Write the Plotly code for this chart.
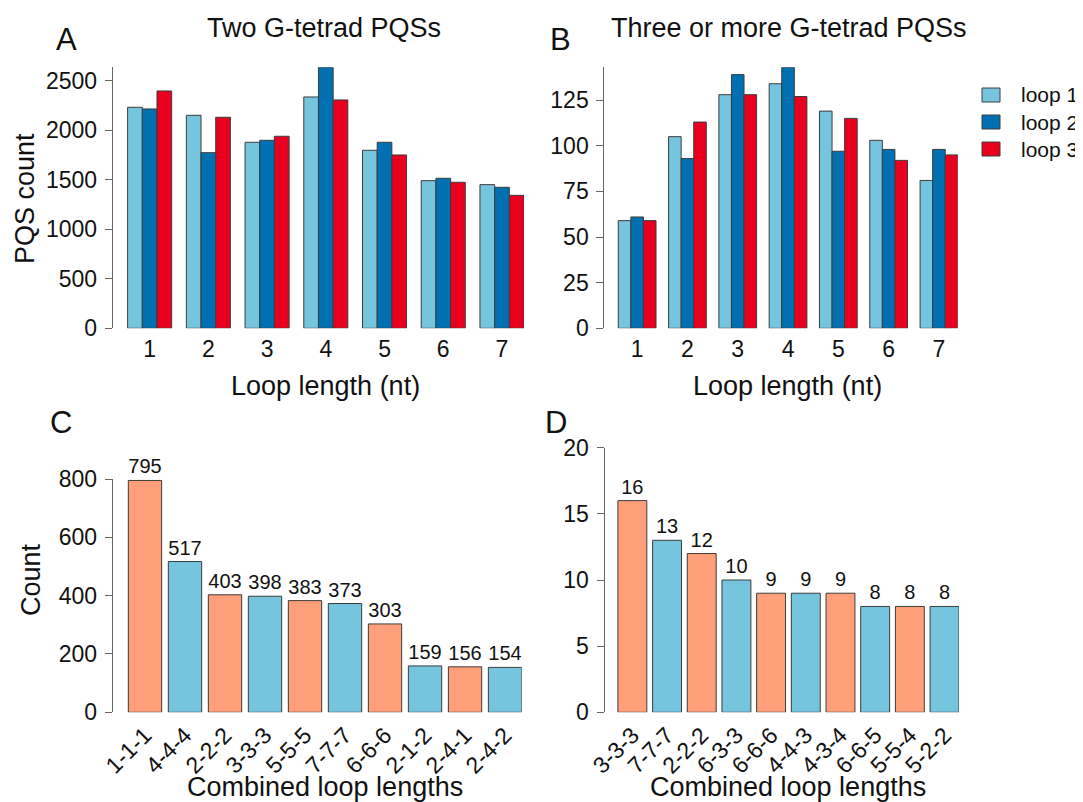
import plotly.graph_objects as go

# ---------------- data ----------------
loop_lengths = ["1", "2", "3", "4", "5", "6", "7"]

two_tetrad_loop1 = [2234, 2153, 1880, 2338, 1799, 1492, 1452]
two_tetrad_loop2 = [2217, 1775, 1900, 2638, 1880, 1516, 1425]
two_tetrad_loop3 = [2399, 2133, 1941, 2308, 1752, 1476, 1344]

three_tetrad_loop1 = [59, 105, 128, 134, 119, 103, 81]
three_tetrad_loop2 = [61, 93, 139, 143, 97, 98, 98]
three_tetrad_loop3 = [59, 113, 128, 127, 115, 92, 95]

combo_c_labels = ["1-1-1", "4-4-4", "2-2-2", "3-3-3", "5-5-5", "7-7-7", "6-6-6", "2-1-2", "2-4-1", "2-4-2"]
combo_c_counts = [795, 517, 403, 398, 383, 373, 303, 159, 156, 154]

combo_d_labels = ["3-3-3", "7-7-7", "2-2-2", "6-3-3", "6-6-6", "4-4-3", "4-3-4", "6-6-5", "5-5-4", "5-2-2"]
combo_d_counts = [16, 13, 12, 10, 9, 9, 9, 8, 8, 8]

series_names = ["loop 1", "loop 2", "loop 3"]

# ---------------- style ----------------
FONT = "Liberation Sans, Arial, Helvetica, sans-serif"
TXT = "#111111"
loop_colors = ["#76C5DF", "#0070B2", "#E8001E"]
alt_colors = ["#FFA07A", "#76C5DF"]
OUTLINE = "#3C3C3C"
AXC = "#666666"
TICK_SIZE = 23
TITLE_SIZE = 27

# page body has an 8px margin -> figure sits at (8, 8)
OFF = 8
W, H = 1083 - OFF, 802 - OFF

fig = go.Figure()

def px_x(p):
    return (p - OFF) / W

def px_y(p):
    return 1 - (p - OFF) / H

# Panel A
for name, vals, col in zip(series_names,
                           [two_tetrad_loop1, two_tetrad_loop2, two_tetrad_loop3],
                           loop_colors):
    fig.add_trace(go.Bar(x=loop_lengths, y=vals, name=name, marker_color=col,
                         marker_line_color=OUTLINE, marker_line_width=1,
                         xaxis="x", yaxis="y", showlegend=False))
# Panel B
for name, vals, col in zip(series_names,
                           [three_tetrad_loop1, three_tetrad_loop2, three_tetrad_loop3],
                           loop_colors):
    fig.add_trace(go.Bar(x=loop_lengths, y=vals, name=name, marker_color=col,
                         marker_line_color=OUTLINE, marker_line_width=1,
                         xaxis="x2", yaxis="y2", showlegend=False))

# Panel C
fig.add_trace(go.Bar(x=combo_c_labels, y=combo_c_counts, width=0.8333,
                     marker_color=[alt_colors[i % 2] for i in range(len(combo_c_counts))],
                     marker_line_color=OUTLINE, marker_line_width=1,
                     text=[str(v) for v in combo_c_counts], textposition="outside",
                     textfont=dict(size=20, color=TXT, family=FONT),
                     constraintext="none", cliponaxis=False,
                     xaxis="x3", yaxis="y3", showlegend=False))
# Panel D
fig.add_trace(go.Bar(x=combo_d_labels, y=combo_d_counts, width=0.8333,
                     marker_color=[alt_colors[i % 2] for i in range(len(combo_d_counts))],
                     marker_line_color=OUTLINE, marker_line_width=1,
                     text=[str(v) for v in combo_d_counts], textposition="outside",
                     textfont=dict(size=20, color=TXT, family=FONT),
                     constraintext="none", cliponaxis=False,
                     xaxis="x4", yaxis="y4", showlegend=False))

def xaxis(domain, rng, anchor, angle=0):
    return dict(domain=domain, range=rng, showline=False, showgrid=False, zeroline=False,
                ticks="", tickangle=angle, ticklabelstandoff=5 if angle == 0 else 4,
                tickfont=dict(size=TICK_SIZE, color=TXT, family=FONT), automargin=False,
                anchor=anchor, type="category")

def yaxis(domain, rng, dtick, anchor):
    return dict(domain=domain, range=rng, dtick=dtick, tick0=0, showline=True, linecolor=AXC,
                linewidth=1, ticks="outside", ticklen=7, tickcolor=AXC, tickwidth=1,
                showgrid=False, zeroline=False, ticklabelstandoff=3, automargin=False,
                tickfont=dict(size=TICK_SIZE, color=TXT, family=FONT), anchor=anchor)

top_dom = [px_y(328.3), px_y(67.3)]
maxA = max(two_tetrad_loop1 + two_tetrad_loop2 + two_tetrad_loop3)
maxB = max(three_tetrad_loop1 + three_tetrad_loop2 + three_tetrad_loop3)

fig.update_layout(
    template="none",
    width=W, height=H,
    margin=dict(l=0, r=0, t=0, b=0, autoexpand=False),
    paper_bgcolor="white", plot_bgcolor="white",
    barmode="group", bargap=0.25, bargroupgap=0,
    font=dict(family=FONT, color=TXT),
    showlegend=False,
    xaxis=xaxis([px_x(112.7), px_x(524)], [-0.629, 6.375], "y"),
    yaxis=yaxis(top_dom, [0, maxA], 500, "x"),
    xaxis2=xaxis([px_x(604.3), px_x(957.8)], [-0.653, 6.375], "y2"),
    yaxis2=yaxis(top_dom, [0, maxB], 25, "x2"),
    xaxis3=xaxis([px_x(112.7), px_x(521.7)], [-0.807, 9.4167], "y3", angle=-45),
    yaxis3=yaxis([px_y(712.3), px_y(479)], [0, 800], 200, "x3"),
    xaxis4=xaxis([px_x(604.5), px_x(959)], [-0.803, 9.4167], "y4", angle=-45),
    yaxis4=yaxis([px_y(712.3), px_y(447.7)], [0, 20], 5, "x4"),
)

def ann(text, x, y, size, angle=0, xanchor="center"):
    fig.add_annotation(text=text, x=px_x(x), y=px_y(y), xref="paper", yref="paper",
                       showarrow=False, xanchor=xanchor, yanchor="middle",
                       textangle=angle, font=dict(size=size, color=TXT, family=FONT))

# legend (key) for the loop series, drawn beside panel B
for i, (name, col) in enumerate(zip(series_names, loop_colors)):
    cy = 95 + 27 * i
    fig.add_shape(type="rect", xref="paper", yref="paper",
                  x0=px_x(982), x1=px_x(1000), y0=px_y(cy + 7), y1=px_y(cy - 7),
                  fillcolor=col, line=dict(color=OUTLINE, width=1))
    ann(name, 1019, cy, 21, xanchor="left")

ann("A", 66, 39, 31)
ann("B", 560, 39, 31)
ann("C", 61, 422, 31)
ann("D", 556, 422, 31)
ann("Two G-tetrad PQSs", 324, 28, TITLE_SIZE)
ann("Three or more G-tetrad PQSs", 789, 28, TITLE_SIZE)
ann("Loop length (nt)", 325, 386, TITLE_SIZE)
ann("Loop length (nt)", 787, 386, TITLE_SIZE)
ann("Combined loop lengths", 325, 787, TITLE_SIZE)
ann("Combined loop lengths", 788, 787, TITLE_SIZE)
ann("PQS count", 25, 199, TITLE_SIZE, angle=-90)
ann("Count", 31, 580, TITLE_SIZE, angle=-90)

fig.write_html("out.html")
